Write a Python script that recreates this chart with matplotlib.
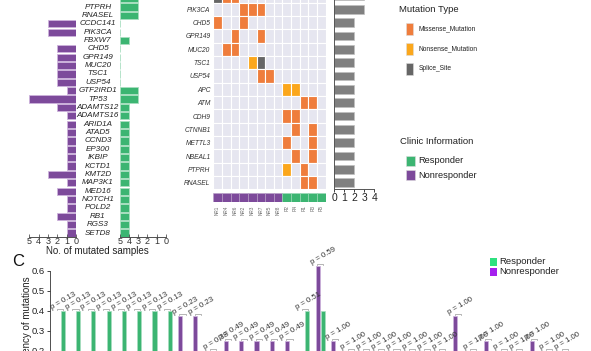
import numpy as np
import matplotlib
matplotlib.use('Agg')
import matplotlib.pyplot as plt
from matplotlib.patches import Rectangle
import matplotlib.transforms as mtransforms

plt.rcParams['font.family'] = ['Liberation Sans', 'DejaVu Sans']

# ------------------------------------------------------------------
# DATA
# ------------------------------------------------------------------

# mirrored bar charts (top left) and panel C share this gene order
genes = ['APC', 'ATM', 'CDH9', 'CTNNB1', 'METTL3', 'NBEAL1', 'PTPRH', 'RNASEL',
         'CCDC141', 'PIK3CA', 'FBXW7', 'CHD5', 'GPR149', 'MUC20', 'TSC1', 'USP54',
         'GTF2IRD1', 'TP53', 'ADAMTS12', 'ADAMTS16', 'ARID1A', 'ATAD5', 'CCND3',
         'EP300', 'IKBIP', 'KCTD1', 'KMT2D', 'MAP3K1', 'MED16', 'NOTCH1', 'POLD2',
         'RB1', 'RGS3', 'SETD8']
nr_counts = [0, 0, 0, 0, 0, 0, 0, 0, 3, 3, 0, 2, 2, 2, 2, 2, 1, 5, 2, 1, 1, 1, 1,
             1, 1, 1, 3, 1, 2, 1, 1, 2, 1, 1]
r_counts = [2, 2, 2, 2, 2, 2, 2, 2, 0, 0, 1, 0, 0, 0, 0, 0, 2, 2, 1, 1, 1, 1, 1,
            1, 1, 1, 1, 1, 1, 1, 1, 1, 1, 1]

# panel C frequencies
nr_freq = [0, 0, 0, 0, 0, 0, 0, 0, 0.375, 0.375, 0, 0.25, 0.25, 0.25, 0.25, 0.25,
           0.125, 0.625, 0.25, 0.125, 0.125, 0.125, 0.125, 0.125, 0.125, 0.125,
           0.375, 0.125, 0.25, 0.125, 0.125, 0.25, 0.125, 0.125]
r_freq = [0.4, 0.4, 0.4, 0.4, 0.4, 0.4, 0.4, 0.4, 0, 0, 0.2, 0, 0, 0, 0, 0,
          0.4, 0.4, 0.2, 0.2, 0.2, 0.2, 0.2, 0.2, 0.2, 0.2, 0.2, 0.2, 0.2, 0.2,
          0.2, 0.2, 0.2, 0.2]
p_vals = ['0.13', '0.13', '0.13', '0.13', '0.13', '0.13', '0.13', '0.13',
          '0.23', '0.23', '0.38', '0.49', '0.49', '0.49', '0.49', '0.49',
          '0.51', '0.59', '1.00', '1.00', '1.00', '1.00', '1.00', '1.00',
          '1.00', '1.00', '1.00', '1.00', '1.00', '1.00', '1.00', '1.00',
          '1.00', '1.00']

# oncoprint: 0 none, 1 missense, 2 nonsense, 3 splice site
onco_genes = ['KMT2D', 'PIK3CA', 'CHD5', 'GPR149', 'MUC20', 'TSC1', 'USP54', 'APC',
              'ATM', 'CDH9', 'CTNNB1', 'METTL3', 'NBEAL1', 'PTPRH', 'RNASEL']
samples = ['NR1', 'NR4', 'NR6', 'NR2', 'NR3', 'NR7', 'NR5', 'NR8',
           'R2', 'R4', 'R1', 'R3', 'R5']
sample_group = ['NR', 'NR', 'NR', 'NR', 'NR', 'NR', 'NR', 'NR', 'R', 'R', 'R', 'R', 'R']
onco = [
    [3, 1, 1, 0, 0, 0, 0, 0, 0, 0, 0, 0, 0],
    [0, 0, 0, 1, 1, 1, 0, 0, 0, 0, 0, 0, 0],
    [1, 0, 0, 1, 0, 0, 0, 0, 0, 0, 0, 0, 0],
    [0, 0, 1, 0, 0, 1, 0, 0, 0, 0, 0, 0, 0],
    [0, 1, 1, 0, 0, 0, 0, 0, 0, 0, 0, 0, 0],
    [0, 0, 0, 0, 2, 3, 0, 0, 0, 0, 0, 0, 0],
    [0, 0, 0, 0, 0, 1, 1, 0, 0, 0, 0, 0, 0],
    [0, 0, 0, 0, 0, 0, 0, 0, 2, 2, 0, 0, 0],
    [0, 0, 0, 0, 0, 0, 0, 0, 0, 0, 1, 1, 0],
    [0, 0, 0, 0, 0, 0, 0, 0, 1, 1, 0, 0, 0],
    [0, 0, 0, 0, 0, 0, 0, 0, 0, 1, 0, 1, 0],
    [0, 0, 0, 0, 0, 0, 0, 0, 1, 0, 0, 1, 0],
    [0, 0, 0, 0, 0, 0, 0, 0, 0, 1, 0, 1, 0],
    [0, 0, 0, 0, 0, 0, 0, 0, 2, 0, 1, 0, 0],
    [0, 0, 0, 0, 0, 0, 0, 0, 0, 0, 1, 1, 0],
]
onco_totals = [3, 3, 2, 2, 2, 2, 2, 2, 2, 2, 2, 2, 2, 2, 2]
mut_types = ['Missense_Mutation', 'Nonsense_Mutation', 'Splice_Site']

# ------------------------------------------------------------------
# STYLE
# ------------------------------------------------------------------
W, H = 591, 351
purple = '#7D4A9B'; purple_edge = '#CDB3DC'
green = '#3CB572'; green_edge = '#A8DEC0'
mut_colors = {1: '#EF7D3C', 2: '#FBA71C', 3: '#666666'}
cell_bg = '#E6E6F0'

def box(x0, y0, x1, y1):
    # pixel box (top-left origin) -> figure fraction rect
    return [x0 / W, 1 - y1 / H, (x1 - x0) / W, (y1 - y0) / H]

def fx(px): return px / W
def fy(py): return 1 - py / H

fig = plt.figure(figsize=(W / 100, H / 100), dpi=100)

# ------------------------------------------------------------------
# mirrored bar charts
# ------------------------------------------------------------------
n = len(genes)
ypos = np.arange(n)
top_px = 233 - 33 * 8.37 - 0.5 * 8.37
bot_px = 236.7

ax_nr = fig.add_axes(box(29.3, top_px, 76, bot_px))
ax_nr.barh(ypos, nr_counts, height=0.86, color=purple, edgecolor=purple_edge, linewidth=0.6)
ax_nr.set_xlim(5, 0)
ax_nr.set_ylim(n - 0.56, -0.5)
ax_nr.set_xticks([5, 4, 3, 2, 1, 0])
ax_nr.set_yticks([])

ax_r = fig.add_axes(box(120, top_px, 165.7, bot_px))
ax_r.barh(ypos, r_counts, height=0.86, color=green, edgecolor=green_edge, linewidth=0.6)
ax_r.set_xlim(0, 5)
ax_r.set_ylim(n - 0.56, -0.5)
ax_r.set_xticks([0, 1, 2, 3, 4, 5])
ax_r.set_xticklabels(['5', '4', '3', '2', '1', '0'])
ax_r.set_yticks([])

for a in (ax_nr, ax_r):
    for s in ('top', 'left', 'right'):
        a.spines[s].set_visible(False)
    a.spines['bottom'].set_linewidth(0.6)
    a.spines['bottom'].set_color('#333333')
    a.tick_params(axis='x', labelsize=6.5, length=2, width=0.5, pad=0.2,
                  direction='in', colors='#333333')
    a.patch.set_alpha(0)

trans = mtransforms.blended_transform_factory(fig.transFigure, ax_nr.transData)
for i, g in enumerate(genes):
    ax_nr.text(fx(98), i, g, transform=trans, ha='center', va='center',
               fontsize=5.8, style='italic', color='#222222', clip_on=False)

fig.text(fx(97.5), fy(250.5), 'No. of mutated samples', ha='center', va='center',
         fontsize=7, color='#222222')

# ------------------------------------------------------------------
# oncoprint
# ------------------------------------------------------------------
nrow = len(onco_genes)
ncol = len(samples)
row_h = 13.34
on_top = 9.3 - row_h * 1.5
on_bot = 9.3 + row_h * (nrow - 1.5)

ax_on = fig.add_axes(box(213.3, on_top, 325.7, on_bot))
for i in range(nrow):
    for j in range(ncol):
        c = mut_colors.get(onco[i][j], cell_bg)
        ax_on.add_patch(Rectangle((j - 0.5, i - 0.5), 1, 1, facecolor=c,
                                  edgecolor='white', linewidth=0.8))
ax_on.set_xlim(-0.5, ncol - 0.5)
ax_on.set_ylim(nrow - 0.5, -0.5)
ax_on.set_xticks([])
ax_on.set_yticks(range(nrow))
ax_on.set_yticklabels(onco_genes, fontsize=4.8, style='italic', color='#333333')
ax_on.tick_params(axis='y', length=0, pad=2)
for s in ax_on.spines.values():
    s.set_visible(False)

ax_cl = fig.add_axes(box(213.3, 192.7, 325.7, 201.7))
for j in range(ncol):
    c = purple if sample_group[j] == 'NR' else green
    ax_cl.add_patch(Rectangle((j - 0.5, 0), 1, 1, facecolor=c,
                              edgecolor='#B8A0C8' if c == purple else '#9ED8B8',
                              linewidth=0.4))
ax_cl.set_xlim(-0.5, ncol - 0.5)
ax_cl.set_ylim(0, 1)
ax_cl.axis('off')
for j, s in enumerate(samples):
    ax_cl.text(j, -0.4, s, rotation=90, ha='center', va='top', fontsize=3.3,
               color='#666666')

ax_tot = fig.add_axes(box(334.3, on_top, 374.3, on_bot))
ax_tot.barh(range(nrow), onco_totals, height=0.66, color='#808080',
            edgecolor='#C0C0C0', linewidth=0.5)
ax_tot.set_xlim(0, 4)
ax_tot.set_ylim(nrow - 0.5, -0.5)
ax_tot.set_yticks([])
ax_tot.set_xticks([0, 1, 2, 3, 4])
ax_tot.tick_params(axis='x', labelsize=7.5, length=2.5, width=0.6, pad=0.1, colors='#222222')
ax_tot.spines['top'].set_visible(False)
ax_tot.spines['right'].set_visible(False)
for s in ('left', 'bottom'):
    ax_tot.spines[s].set_linewidth(0.7)
    ax_tot.spines[s].set_color('#555555')

# legends
fig.text(fx(399), fy(9), 'Mutation Type', ha='left', va='center', fontsize=6.8, color='#222222')
for k, (lab, yc) in enumerate(zip(mut_types, [29, 49, 69])):
    fig.add_artist(Rectangle((fx(406), fy(yc + 6)), 7 / W, 12 / H,
                             transform=fig.transFigure, facecolor=mut_colors[k + 1],
                             edgecolor='#DDDDDD', linewidth=0.4))
    fig.text(fx(418.5), fy(yc), lab, ha='left', va='center', fontsize=4.8, color='#222222')

fig.text(fx(400), fy(142), 'Clinic Information', ha='left', va='center', fontsize=6.8, color='#222222')
for lab, col, yc in zip(['Responder', 'Nonresponder'], [green, purple], [160.7, 175.3]):
    fig.add_artist(Rectangle((fx(406), fy(yc + 5)), 9 / W, 10 / H,
                             transform=fig.transFigure, facecolor=col,
                             edgecolor='#DDDDDD', linewidth=0.4))
    fig.text(fx(418), fy(yc), lab, ha='left', va='center', fontsize=6.7, color='#222222')

# ------------------------------------------------------------------
# panel C: frequency of mutations
# ------------------------------------------------------------------
fig.text(fx(12), fy(262), 'C', ha='left', va='center', fontsize=12, color='#111111')

ax_c = fig.add_axes(box(50, 271, 580, 391))
x = np.arange(len(genes))
bw = 0.27
ax_c.bar(x - 0.163, nr_freq, width=bw, color=purple, edgecolor=purple_edge, linewidth=0.5, clip_on=False)
ax_c.bar(x + 0.163, r_freq, width=bw, color=green, edgecolor=green_edge, linewidth=0.5, clip_on=False)
ax_c.set_xlim(-0.67, len(genes))
ax_c.set_ylim(0, 0.6)
ax_c.set_yticks([0, 0.1, 0.2, 0.3, 0.4, 0.5, 0.6])
ax_c.set_yticklabels(['0.0', '0.1', '0.2', '0.3', '0.4', '0.5', '0.6'])
ax_c.set_xticks([])
ax_c.tick_params(axis='y', labelsize=6.8, length=2.5, width=0.6, pad=1, colors='#222222')
for s in ('top', 'right'):
    ax_c.spines[s].set_visible(False)
for s in ('left', 'bottom'):
    ax_c.spines[s].set_linewidth(0.6)
    ax_c.spines[s].set_color('#333333')

for k in range(len(genes)):
    top = max(nr_freq[k], r_freq[k])
    yb = top + 0.012
    ax_c.plot([k - 0.2, k - 0.2, k + 0.2, k + 0.2], [yb - 0.008, yb, yb, yb - 0.008],
              color='#999999', lw=0.5, clip_on=False)
    ax_c.text(k + 0.2, top + 0.05, 'p = ' + p_vals[k], rotation=30,
              rotation_mode='anchor', ha='center', va='center', fontsize=5.6,
              color='#333333', clip_on=False)

fig.text(fx(27.5), fy(327), 'Frequency of mutations', rotation=90, ha='center',
         va='center', fontsize=7, color='#222222')

leg_cols = ['#2EE07F', '#A520EE']
for lab, col, yc in zip(['Responder', 'Nonresponder'], leg_cols, [262, 271.7]):
    fig.add_artist(Rectangle((fx(490), fy(yc + 3.8)), 6.5 / W, 7.6 / H,
                             transform=fig.transFigure, facecolor=col, edgecolor='none'))
    fig.text(fx(499), fy(yc), lab, ha='left', va='center', fontsize=6.8, color='#222222')

plt.savefig('out.png', dpi=100)
